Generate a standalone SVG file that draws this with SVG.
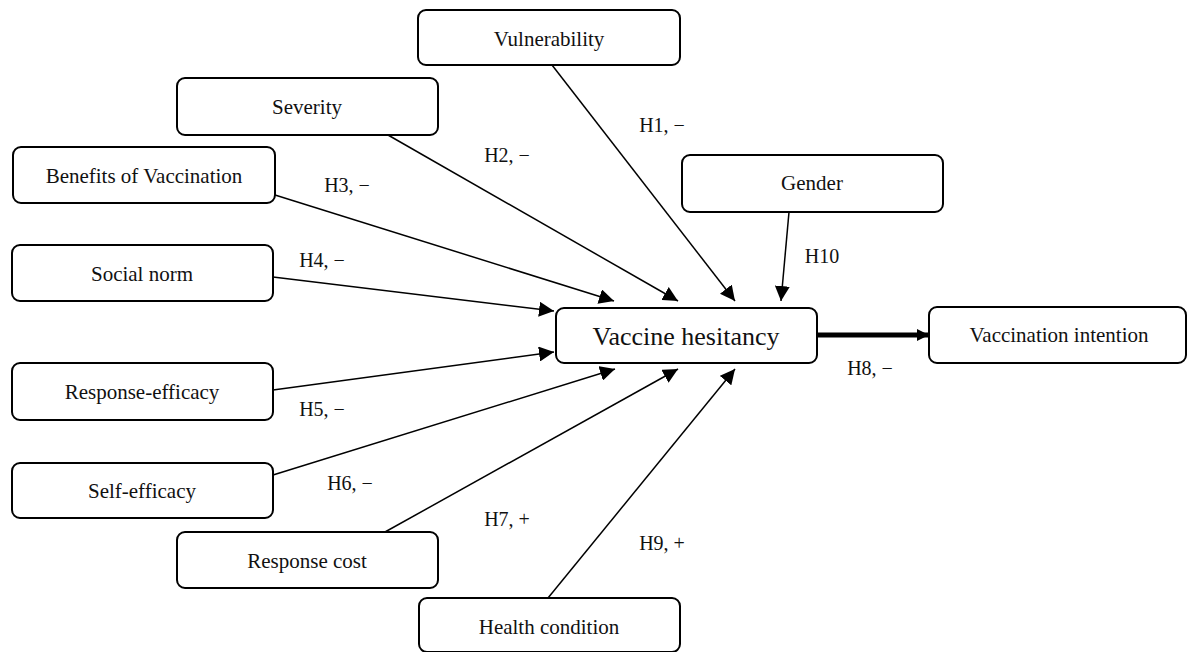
<svg xmlns="http://www.w3.org/2000/svg" width="1188" height="652" viewBox="0 0 1188 652">
<style>
.box{fill:#fff;stroke:#000;stroke-width:2}
.t{font-family:"Liberation Serif","Times New Roman",serif;font-size:21px;fill:#111;text-anchor:middle;dominant-baseline:central}
.big{font-size:26px}
.lbl{font-family:"Liberation Serif","Times New Roman",serif;font-size:20px;fill:#111;text-anchor:middle;dominant-baseline:central}
.c{stroke:#000;stroke-width:1.5;fill:none;marker-end:url(#ah)}
</style>
<defs>
<marker id="ah" viewBox="0 0 10 10" refX="10" refY="5" markerWidth="15" markerHeight="15" markerUnits="userSpaceOnUse" orient="auto">
<path d="M0,0 L10,5 L0,10 z" fill="#000"/>
</marker>
<marker id="ahb" viewBox="0 0 10 10" refX="10" refY="5" markerWidth="12" markerHeight="12" markerUnits="userSpaceOnUse" orient="auto">
<path d="M0,0 L10,5 L0,10 z" fill="#000"/>
</marker>
</defs>
<rect width="1188" height="652" fill="#fff"/>
<g id="connectors">
<line class="c" x1="552" y1="65" x2="735" y2="301"/>
<line class="c" x1="789" y1="212" x2="781" y2="301"/>
<line class="c" x1="388" y1="135" x2="678" y2="301"/>
<line class="c" x1="275" y1="195" x2="614" y2="301"/>
<line class="c" x1="273" y1="277" x2="554" y2="311"/>
<line class="c" x1="273" y1="390" x2="554" y2="352"/>
<line class="c" x1="273" y1="475" x2="615" y2="369"/>
<line class="c" x1="385" y1="532" x2="678" y2="369"/>
<line class="c" x1="548" y1="598" x2="735" y2="369"/>
<line x1="817" y1="335" x2="929" y2="335" stroke="#000" stroke-width="5" marker-end="url(#ahb)"/>
</g>
<g id="vulnerability"><rect class="box" x="418" y="10" width="262" height="55" rx="8"/><text class="t" x="549" y="39">Vulnerability</text></g>
<g id="severity"><rect class="box" x="177" y="78" width="261" height="57" rx="8"/><text class="t" x="307" y="107">Severity</text></g>
<g id="benefits"><rect class="box" x="13" y="147" width="262" height="56" rx="8"/><text class="t" x="144" y="176">Benefits of Vaccination</text></g>
<g id="social-norm"><rect class="box" x="12" y="245" width="261" height="56" rx="8"/><text class="t" x="142" y="274">Social norm</text></g>
<g id="response-efficacy"><rect class="box" x="12" y="363" width="261" height="57" rx="8"/><text class="t" x="142" y="392">Response-efficacy</text></g>
<g id="self-efficacy"><rect class="box" x="12" y="463" width="261" height="55" rx="8"/><text class="t" x="142" y="491">Self-efficacy</text></g>
<g id="response-cost"><rect class="box" x="177" y="532" width="261" height="56" rx="8"/><text class="t" x="307" y="561">Response cost</text></g>
<g id="health-condition"><rect class="box" x="419" y="598" width="261" height="54" rx="8"/><text class="t" x="549" y="627">Health condition</text></g>
<g id="gender"><rect class="box" x="682" y="155" width="261" height="57" rx="8"/><text class="t" x="812" y="183">Gender</text></g>
<g id="vaccine-hesitancy"><rect class="box" x="556" y="308" width="261" height="55" rx="8"/><text class="t big" x="686" y="336">Vaccine hesitancy</text></g>
<g id="vaccination-intention"><rect class="box" x="929" y="307" width="257" height="56" rx="8"/><text class="t" x="1059" y="335">Vaccination intention</text></g>
<g id="labels">
<text class="lbl" x="662" y="125">H1, −</text>
<text class="lbl" x="507" y="155">H2, −</text>
<text class="lbl" x="347" y="185">H3, −</text>
<text class="lbl" x="322" y="260">H4, −</text>
<text class="lbl" x="822" y="256">H10</text>
<text class="lbl" x="870" y="368">H8, −</text>
<text class="lbl" x="322" y="409">H5, −</text>
<text class="lbl" x="350" y="483">H6, −</text>
<text class="lbl" x="507" y="519">H7, +</text>
<text class="lbl" x="662" y="543">H9, +</text>
</g>
</svg>
